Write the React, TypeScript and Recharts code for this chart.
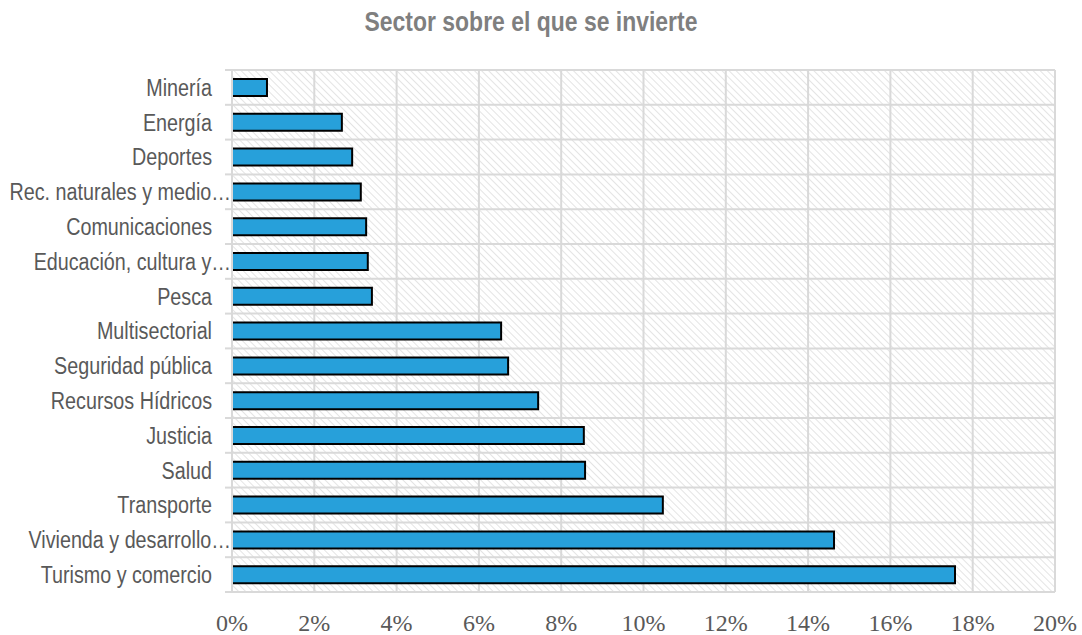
import React from "react";
import { BarChart, Bar, XAxis, YAxis, CartesianGrid } from "recharts";

const categories = [
  "Minería",
  "Energía",
  "Deportes",
  "Rec. naturales y medio…",
  "Comunicaciones",
  "Educación, cultura y…",
  "Pesca",
  "Multisectorial",
  "Seguridad pública",
  "Recursos Hídricos",
  "Justicia",
  "Salud",
  "Transporte",
  "Vivienda y desarrollo…",
  "Turismo y comercio",
];

const values = [0.85, 2.67, 2.92, 3.13, 3.26, 3.3, 3.4, 6.54, 6.71, 7.44, 8.55, 8.58, 10.47, 14.63, 17.57];

const xTicks = [0, 2, 4, 6, 8, 10, 12, 14, 16, 18, 20];

const data = categories.map((name, i) => ({ name, value: values[i] }));

const SANS = "'Liberation Sans', Arial, sans-serif";

const YTick = (props: any) => {
  const { x, y, payload, index } = props;
  const label: string = payload.value;
  const truncated = label.endsWith("…");
  const half = payload.offset || 17.4;
  const axisX = x;
  const tx = truncated ? axisX - 1 : axisX - 20;
  return (
    <g>
      <line x1={axisX - 7} x2={axisX} y1={y - half} y2={y - half} stroke="#d9d9d9" strokeWidth={2} />
      {index === categories.length - 1 && (
        <line x1={axisX - 7} x2={axisX} y1={y + half} y2={y + half} stroke="#d9d9d9" strokeWidth={2} />
      )}
      <text
        transform={`translate(${tx},${y}) scale(0.84,1)`}
        x={0}
        y={0}
        dy="0.36em"
        textAnchor="end"
        fill="#595959"
        fontSize={23.5}
        fontFamily={SANS}
      >
        {label}
      </text>
    </g>
  );
};

export default function App() {
  return (
    <div style={{ position: "absolute", left: 0, top: 0, width: 1082, height: 635, background: "#fff" }}>
      <div
        style={{
          position: "absolute",
          left: 0,
          width: 1062,
          top: 6,
          textAlign: "center",
          fontFamily: SANS,
          fontWeight: "bold",
          fontSize: 27,
          color: "#7f7f7f",
          lineHeight: "32px",
          transform: "scaleX(0.85)",
          transformOrigin: "531px 0",
        }}
      >
        Sector sobre el que se invierte
      </div>
      <BarChart
        width={1082}
        height={635}
        data={data}
        layout="vertical"
        margin={{ top: 70, right: 27, bottom: 0, left: 0 }}
        barSize={17}
      >
        <defs>
          <pattern id="hatch" width="5" height="5" patternUnits="userSpaceOnUse" patternTransform="rotate(-45)">
            <rect width="5" height="5" fill="#ffffff" />
            <line x1="0" y1="0" x2="0" y2="5" stroke="#dcdcdc" strokeWidth="1.5" />
          </pattern>
        </defs>
        <CartesianGrid
          fill="url(#hatch)"
          stroke="#d9d9d9"
          strokeWidth={2}
          horizontalCoordinatesGenerator={({ offset }: any) =>
            Array.from({ length: categories.length + 1 }, (_, i) => offset.top + (i * offset.height) / categories.length)
          }
        />
        <XAxis
          type="number"
          domain={[0, 20]}
          ticks={xTicks}
          tickFormatter={(v: number) => `${v}%`}
          axisLine={false}
          tickLine={false}
          tickSize={0}
          tickMargin={22}
          height={43}
          interval={0}
          tick={{ fill: "#595959", fontSize: 24, fontFamily: "'Liberation Serif', 'DejaVu Serif', serif" }}
        />
        <YAxis
          type="category"
          dataKey="name"
          width={232}
          axisLine={{ stroke: "#d9d9d9", strokeWidth: 2 }}
          tickLine={false}
          tickSize={0}
          tickMargin={0}
          interval={0}
          tick={<YTick />}
        />
        <Bar dataKey="value" fill="#27a0da" stroke="#000000" strokeWidth={2} isAnimationActive={false} />
      </BarChart>
    </div>
  );
}
